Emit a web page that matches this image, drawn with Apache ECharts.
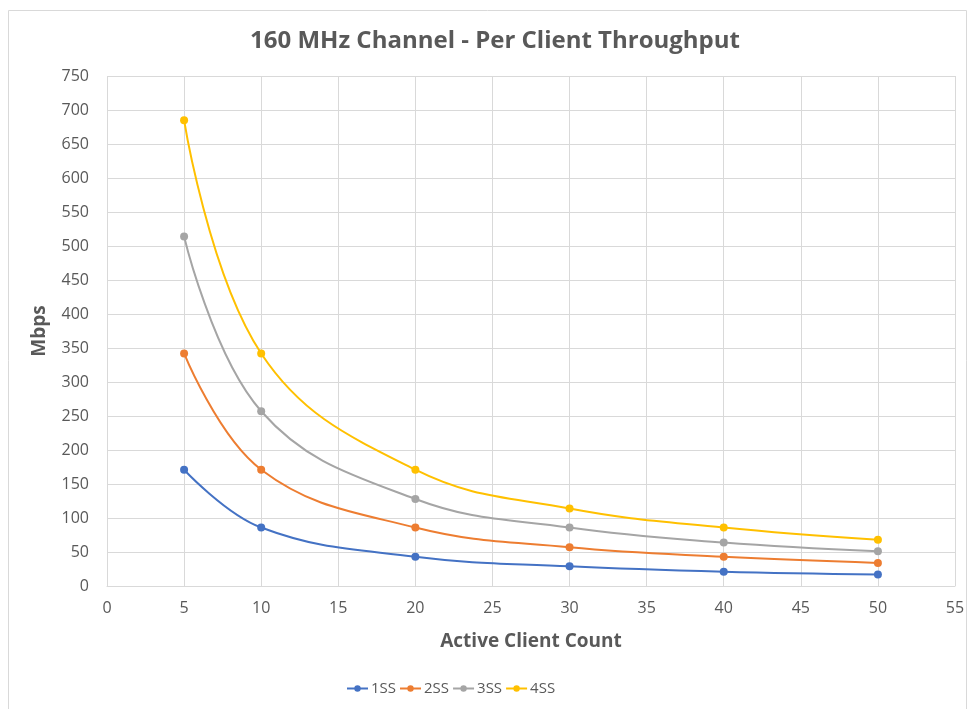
<!DOCTYPE html>
<html>
<head>
<meta charset="utf-8">
<script src="https://cdn.jsdelivr.net/npm/echarts@6/dist/echarts.min.js"></script>
<style>
  html, body { margin: 0; padding: 0; background: #fff; }
  #chart { width: 970px; height: 709px; }
</style>
</head>
<body>
<div id="chart"></div>
<script>
const clients = [5, 10, 20, 30, 40, 50]
const ss1 = [171, 86, 43, 29, 21, 17]
const ss2 = [342, 171, 86, 57, 43, 34]
const ss3 = [514, 257, 128, 86, 64, 51]
const ss4 = [685, 342, 171, 114, 86, 68]
const seriesNames = ['1SS', '2SS', '3SS', '4SS']
const colors = ['#4472C4', '#ED7D31', '#A5A5A5', '#FFC000']

const font = '"Open Sans", "Liberation Sans", sans-serif'
const textGray = '#595959'

function pairs(ys) {
  return clients.map((x, i) => [x, ys[i]])
}

const chart = echarts.init(document.getElementById('chart'))

chart.setOption({
  animation: false,
  color: colors,
  graphic: [{
    type: 'rect',
    shape: { x: 8.5, y: 10.5, width: 958, height: 710 },
    style: { fill: 'none', stroke: '#d9d9d9', lineWidth: 1 }
  }],
  title: {
    text: '160 MHz Channel - Per Client Throughput',
    left: 245,
    top: 24,
    textStyle: { fontFamily: font, fontSize: 24, fontWeight: 'bold', color: textGray }
  },
  legend: {
    data: seriesNames,
    bottom: 8,
    left: 341,
    itemWidth: 21,
    itemHeight: 8,
    itemGap: 3,
    textStyle: { fontFamily: font, fontSize: 15, color: textGray, padding: [0, 0, 0, -2] }
  },
  grid: {
    left: 107,
    right: 15,
    top: 76,
    bottom: 123
  },
  xAxis: {
    type: 'value',
    min: 0,
    max: 55,
    interval: 5,
    name: 'Active Client Count',
    nameLocation: 'middle',
    nameGap: 46,
    nameTextStyle: { fontFamily: font, fontSize: 19, fontWeight: 'bold', color: textGray },
    axisLine: { lineStyle: { color: '#d9d9d9' } },
    axisTick: { show: false },
    axisLabel: { fontFamily: font, fontSize: 16, color: textGray, margin: 14 },
    splitLine: { lineStyle: { color: '#d9d9d9' } }
  },
  yAxis: {
    type: 'value',
    min: 0,
    max: 750,
    interval: 50,
    name: 'Mbps',
    nameLocation: 'middle',
    nameGap: 58,
    nameTextStyle: { fontFamily: font, fontSize: 19, fontWeight: 'bold', color: textGray },
    axisLine: { show: false },
    axisTick: { show: false },
    axisLabel: { fontFamily: font, fontSize: 16, color: textGray, margin: 18 },
    splitLine: { lineStyle: { color: '#d9d9d9' } }
  },
  series: [ss1, ss2, ss3, ss4].map((d, i) => ({
    name: seriesNames[i],
    type: 'line',
    smooth: 0.4,
    symbol: 'circle',
    symbolSize: 8,
    lineStyle: { width: 2 },
    data: pairs(d)
  }))
})
</script>
</body>
</html>
